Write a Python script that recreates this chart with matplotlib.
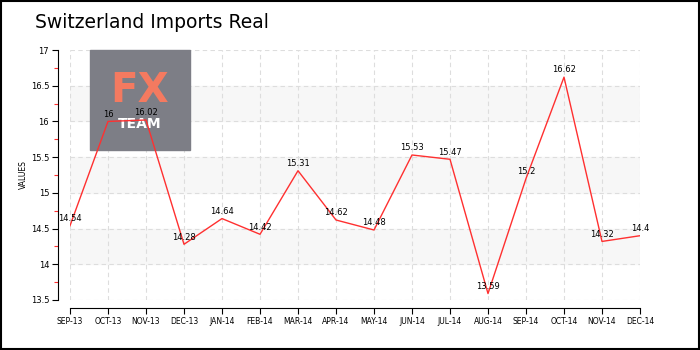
import matplotlib.pyplot as plt
from matplotlib.patches import Rectangle

# monthly import figures
months = ["SEP-13", "OCT-13", "NOV-13", "DEC-13", "JAN-14", "FEB-14", "MAR-14", "APR-14",
          "MAY-14", "JUN-14", "JUL-14", "AUG-14", "SEP-14", "OCT-14", "NOV-14", "DEC-14"]
values = [14.54, 16, 16.02, 14.28, 14.64, 14.42, 15.31, 14.62,
          14.48, 15.53, 15.47, 13.59, 15.2, 16.62, 14.32, 14.4]
y_ticks = [13.5, 14, 14.5, 15, 15.5, 16, 16.5, 17]
y_tick_labels = ["13.5", "14", "14.5", "15", "15.5", "16", "16.5", "17"]
bands = [(14, 14.5), (15, 15.5), (16, 16.5)]

fig = plt.figure(figsize=(7, 3.5), dpi=100)
ax = fig.add_axes([70 / 700, 50 / 350, 570 / 700, 250 / 350])

# detach the axis lines first, since moving a spine resets its ticks
for side in ("top", "right"):
    ax.spines[side].set_visible(False)
ax.spines["left"].set_position(("outward", 9))
ax.spines["bottom"].set_position(("outward", 6))
ax.spines["left"].set_linewidth(0.8)
ax.spines["bottom"].set_linewidth(0.8)

x = list(range(len(months)))
ax.set_xlim(0, len(months) - 1)
ax.set_ylim(13.5, 17)

for lo, hi in bands:
    ax.axhspan(lo, hi, color="#f7f7f7", zorder=0)

ax.grid(True, color="#dddddd", linestyle=(0, (4, 3)), linewidth=0.8)
ax.set_axisbelow(True)

# logo box in the upper left, under the line
ax.add_patch(Rectangle((90 / 700, 200 / 350), 100 / 700, 100 / 350,
                       transform=fig.transFigure, color="#7d7e86", zorder=1,
                       clip_on=False))
ax.text(140 / 700, 1 - 91 / 350, "FX", transform=fig.transFigure, color="#f47a60",
        fontsize=29, fontweight="bold", ha="center", va="center", zorder=2)
ax.text(140 / 700, 1 - 124 / 350, "TEAM", transform=fig.transFigure, color="white",
        fontsize=10, fontweight="bold", ha="center", va="center", zorder=2)

ax.plot(x, values, color="#ff3030", linewidth=1.0, zorder=3)
for xi, v in zip(x, values):
    ax.annotate(f"{v:g}", (xi, v), xytext=(0, 2), textcoords="offset points",
                ha="center", va="bottom", fontsize=6, zorder=4)

ax.set_xticks(x)
ax.set_xticklabels(months, fontsize=5.5)
ax.set_yticks(y_ticks)
ax.set_yticklabels(y_tick_labels, fontsize=6)
ax.set_yticks([t + 0.25 for t in y_ticks[:-1]], minor=True)
ax.tick_params(axis="y", which="minor", color="#ff3030", length=3, width=0.8)
ax.tick_params(axis="both", which="major", length=4, width=0.8, pad=2)
ax.set_ylabel("VALUES", fontsize=5.5, labelpad=2)

fig.text(35 / 700, 1 - 22 / 350, "Switzerland Imports Real", fontsize=13.5,
         family=["Liberation Sans Narrow", "DejaVu Sans"], ha="left", va="center")

fig.patches.append(Rectangle((0.001, 0.002), 0.997, 0.995, transform=fig.transFigure,
                             fill=False, edgecolor="black", linewidth=1.5))

fig.savefig("out.png", dpi=100)
